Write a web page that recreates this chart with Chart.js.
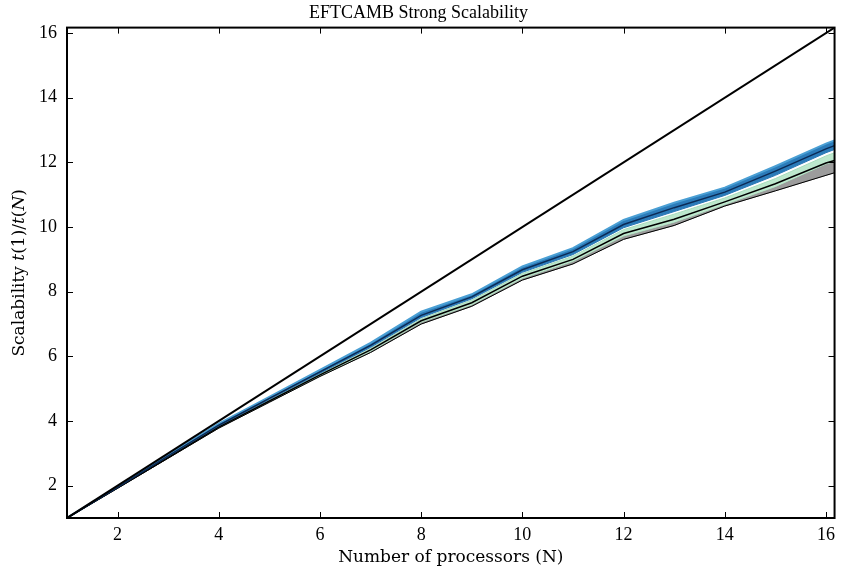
<!DOCTYPE html>
<html>
<head>
<meta charset="utf-8">
<title>EFTCAMB Strong Scalability</title>
<script src="https://cdn.jsdelivr.net/npm/chart.js"></script>
<style>
  html, body { margin: 0; padding: 0; background: #fff; }
  #wrap { width: 841px; height: 578px; }
</style>
</head>
<body>
<div id="wrap"><canvas id="chart" width="841" height="578"></canvas></div>
<script>
// number of processors (last entry is the right edge of the axes)
const procs = [1, 2, 3, 4, 5, 6, 7, 8, 9, 10, 11, 12, 13, 14, 15, 16, 16.17];
const ideal = [1, 16.17]; // perfect scalability, at N = 1 and N = 16.17

// blue runs: upper / lower envelope and their mean
const blueHi   = [1, 1.97, 2.95, 3.92, 4.75, 5.58, 6.42, 7.38, 7.92, 8.78, 9.35, 10.22, 10.75, 11.22, 11.88, 12.58, 12.68];
const blueLo   = [1, 1.94, 2.90, 3.84, 4.67, 5.48, 6.28, 7.20, 7.78, 8.60, 9.15, 9.98, 10.48, 10.98, 11.60, 12.30, 12.40];
const blueMean = [1, 1.95, 2.92, 3.87, 4.70, 5.52, 6.34, 7.27, 7.84, 8.68, 9.24, 10.08, 10.60, 11.08, 11.73, 12.42, 12.52];

// green runs
const greenHi   = [1, 1.94, 2.89, 3.83, 4.65, 5.46, 6.25, 7.16, 7.74, 8.56, 9.10, 9.92, 10.40, 10.90, 11.50, 12.20, 12.30];
const greenLo   = [1, 1.93, 2.86, 3.80, 4.60, 5.40, 6.16, 7.06, 7.60, 8.42, 8.94, 9.72, 10.15, 10.70, 11.25, 11.95, 12.02];
const greenMean = [1, 1.93, 2.87, 3.81, 4.62, 5.43, 6.20, 7.10, 7.66, 8.48, 9.00, 9.80, 10.24, 10.78, 11.34, 11.98, 12.06];

// grey runs
const greyHi = greenLo;
const greyLo = [1, 1.92, 2.85, 3.78, 4.58, 5.38, 6.12, 7.00, 7.55, 8.36, 8.86, 9.62, 10.05, 10.65, 11.12, 11.60, 11.68];

const xTicks = [2, 4, 6, 8, 10, 12, 14, 16];
const yTicks = [2, 4, 6, 8, 10, 12, 14, 16];

const FONT = "'Liberation Serif', 'DejaVu Serif', serif";
const LABEL_FONT = "'DejaVu Serif', serif";

function pts(ys) {
    return ys.map((y, i) => ({ x: procs[i], y: y }));
}

function line(label, ys, color, width, order, fill, bg) {
    return {
        label: label,
        data: pts(ys),
        borderColor: color,
        borderWidth: width,
        backgroundColor: bg || 'transparent',
        fill: fill === undefined ? false : fill,
        pointRadius: 0,
        tension: 0,
        order: order
    };
}

// frame, inward ticks on all four sides and the y label with italic parts
const framePlugin = {
    id: 'frame',
    afterDraw(chart) {
        const ctx = chart.ctx;
        const a = chart.chartArea;
        const xs = chart.scales.x, ys = chart.scales.y;
        ctx.save();
        ctx.strokeStyle = '#000';
        ctx.lineWidth = 1;
        ctx.beginPath();
        xTicks.forEach(v => {
            const px = Math.round(xs.getPixelForValue(v)) + 0.5;
            ctx.moveTo(px, a.bottom); ctx.lineTo(px, a.bottom - 6);
            ctx.moveTo(px, a.top); ctx.lineTo(px, a.top + 6);
        });
        yTicks.forEach(v => {
            const py = Math.round(ys.getPixelForValue(v)) + 0.5;
            ctx.moveTo(a.left, py); ctx.lineTo(a.left + 6, py);
            ctx.moveTo(a.right, py); ctx.lineTo(a.right - 6, py);
        });
        ctx.stroke();
        ctx.lineWidth = 2;
        ctx.strokeRect(a.left, a.top, a.right - a.left, a.bottom - a.top);

        // y axis title
        const parts = [
            ['Scalability ', false], ['t', true], ['(1)/', false],
            ['t', true], ['(', false], ['N', true], [')', false]
        ];
        const fnt = it => (it ? 'italic ' : '') + '17px ' + LABEL_FONT;
        let total = 0;
        parts.forEach(p => { ctx.font = fnt(p[1]); total += ctx.measureText(p[0]).width; });
        ctx.translate(20, (a.top + a.bottom) / 2);
        ctx.rotate(-Math.PI / 2);
        ctx.fillStyle = '#000';
        ctx.textBaseline = 'middle';
        ctx.textAlign = 'left';
        let cx = -total / 2;
        parts.forEach(p => {
            ctx.font = fnt(p[1]);
            ctx.fillText(p[0], cx, 0);
            cx += ctx.measureText(p[0]).width;
        });
        ctx.restore();
    }
};

new Chart(document.getElementById('chart'), {
    type: 'line',
    data: {
        datasets: [
            { label: 'Ideal', data: ideal.map(v => ({ x: v, y: v })), borderColor: '#000', borderWidth: 2,
              pointRadius: 0, fill: false, order: 0 },
            line('Blue mean', blueMean, '#0b2a55', 1.5, 1),
            line('Green mean', greenMean, '#000', 1.5, 2),
            line('Grey low', greyLo, '#000', 1, 3),
            line('Blue high', blueHi, '#4a9fd4', 2, 4, 5, '#2b7bb9'),
            line('Blue low', blueLo, '#2470b0', 1, 5),
            line('Green high', greenHi, '#a8dcbc', 1, 6, 7, '#bde8cd'),
            line('Green low', greenLo, '#a8dcbc', 1, 7),
            line('Grey high', greyHi, '#8c8c8c', 1, 8, 9, '#9c9c9c'),
            line('Grey low fill', greyLo, '#8c8c8c', 1, 9)
        ]
    },
    options: {
        responsive: false,
        animation: false,
        layout: { padding: { left: 0, right: 4, top: 0, bottom: 0 } },
        plugins: {
            legend: { display: false },
            tooltip: { enabled: false },
            title: {
                display: true,
                text: 'EFTCAMB Strong Scalability',
                color: '#000',
                font: { family: FONT, size: 18, weight: 'normal', lineHeight: 1.2 },
                padding: { top: 2, bottom: 4 }
            }
        },
        scales: {
            x: {
                type: 'linear',
                min: 1,
                max: 16.17,
                grid: { display: false, drawTicks: false },
                border: { display: false },
                afterBuildTicks: s => { s.ticks = xTicks.map(v => ({ value: v })); },
                afterFit: s => { s.height = 60; },
                ticks: { color: '#000', padding: 6, font: { family: FONT, size: 18 }, maxRotation: 0 },
                title: {
                    display: true,
                    text: 'Number of processors (N)',
                    color: '#000',
                    font: { family: LABEL_FONT, size: 17 },
                    padding: { top: 4, bottom: 10 }
                }
            },
            y: {
                type: 'linear',
                min: 1,
                max: 16.17,
                grid: { display: false, drawTicks: false },
                border: { display: false },
                afterBuildTicks: s => { s.ticks = yTicks.map(v => ({ value: v })); },
                afterFit: s => { s.width = 67; },
                ticks: { color: '#000', padding: 10, font: { family: FONT, size: 18 } }
            }
        }
    },
    plugins: [framePlugin]
});
</script>
</body>
</html>
